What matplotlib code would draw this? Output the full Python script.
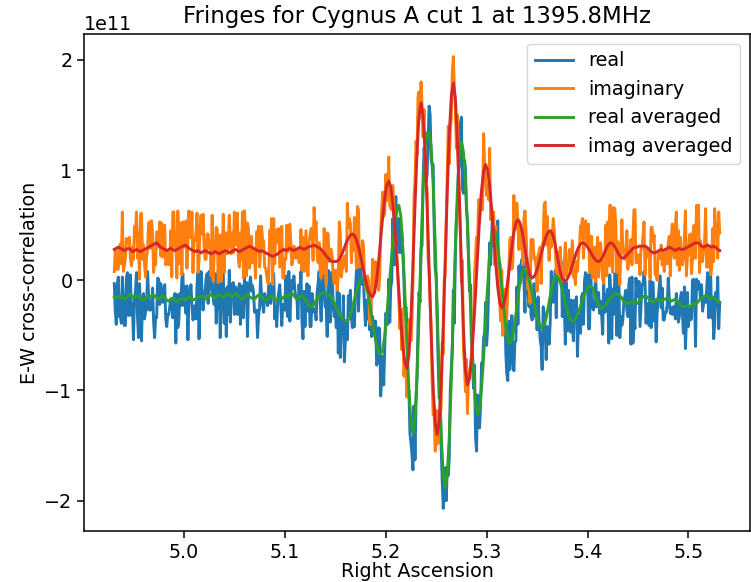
import numpy as np
import matplotlib
matplotlib.use("Agg")
import matplotlib.pyplot as plt

# Right Ascension range of the scan
ra_start = 4.931
ra_stop = 5.531
n_raw = 601   # raw samples
n_avg = 301   # averaged samples

# values in units of 1e11
real_raw = [
-0.03,-0.28,-0.40,-0.04,0.03,-0.33,-0.32,-0.39,0.03,-0.22,-0.41,-0.41,0.02,0.07,-0.32,-0.20,0.05,-0.32,-0.21,-0.54,
-0.16,-0.10,0.07,-0.33,-0.52,-0.03,-0.22,-0.55,-0.18,-0.12,-0.35,-0.28,-0.27,0.08,-0.14,-0.27,-0.27,-0.26,-0.07,-0.38,
-0.52,-0.33,-0.34,0.02,0.01,-0.22,-0.03,-0.09,-0.20,-0.09,-0.04,-0.35,-0.42,-0.31,-0.31,-0.24,-0.17,-0.17,-0.34,-0.23,
-0.12,-0.57,-0.13,-0.43,-0.36,-0.12,-0.23,0.02,0.06,-0.23,-0.06,-0.30,-0.05,-0.54,-0.15,-0.10,-0.04,-0.23,-0.36,-0.30,
-0.23,-0.35,-0.04,0.07,-0.53,-0.09,0.08,-0.09,-0.27,-0.16,-0.11,0.02,0.06,-0.21,0.08,-0.08,0.09,-0.14,-0.15,-0.22,
0.06,-0.39,-0.14,0.09,-0.01,-0.52,-0.21,0.07,0.06,-0.39,-0.08,-0.51,-0.06,-0.31,0.09,-0.38,-0.09,-0.03,-0.02,-0.31,
-0.06,-0.13,-0.31,-0.08,-0.03,-0.40,-0.05,-0.29,-0.34,0.03,-0.20,-0.02,-0.51,-0.08,-0.03,0.03,-0.10,-0.05,-0.11,-0.29,
-0.28,-0.27,-0.52,-0.32,-0.25,0.04,-0.15,-0.22,-0.29,-0.12,-0.18,-0.18,-0.23,-0.04,-0.03,-0.21,-0.14,0.03,0.06,-0.35,
-0.24,-0.42,-0.17,-0.11,-0.04,-0.23,-0.41,-0.22,-0.27,-0.27,0.04,-0.27,-0.33,0.08,-0.37,-0.13,0.00,-0.07,0.04,-0.09,
-0.16,-0.17,-0.35,-0.04,-0.15,0.08,-0.38,-0.53,-0.10,-0.42,-0.13,-0.03,-0.28,-0.05,-0.42,-0.42,-0.12,-0.29,-0.28,-0.26,
-0.36,-0.11,-0.03,0.08,-0.19,-0.37,-0.06,0.07,-0.05,-0.24,-0.24,-0.51,0.09,-0.26,-0.38,0.07,0.05,-0.25,-0.33,-0.23,
-0.43,-0.05,-0.66,-0.12,-0.70,-0.40,-0.47,-0.14,-0.74,-0.55,-0.37,-0.54,-0.14,-0.27,-0.09,-0.34,-0.43,-0.27,-0.42,-0.08,
0.08,0.15,-0.28,-0.02,0.13,0.01,-0.04,0.01,-0.24,-0.41,-0.18,-0.35,-0.15,-0.45,-0.05,-0.51,-0.33,-0.44,-0.44,-0.37,
-0.77,-0.74,-0.43,-0.44,-1.05,-0.89,-0.69,-0.95,-0.63,-0.30,-0.33,-0.40,0.01,-0.38,-0.06,-0.01,0.56,0.37,0.14,0.76,
0.26,0.48,0.56,0.25,0.46,0.44,0.23,0.02,-0.31,-0.24,-0.37,-1.03,-1.00,-1.39,-1.47,-1.58,-1.72,-1.14,-1.63,-1.12,
-0.88,-0.42,-0.11,-0.20,0.28,0.32,0.90,1.20,1.09,0.90,0.96,1.28,1.58,1.50,1.10,1.05,1.05,0.49,0.11,0.04,
-0.39,-0.76,-1.07,-1.03,-1.53,-1.83,-2.07,-1.94,-1.70,-2.00,-1.70,-1.77,-1.60,-0.99,-0.79,-0.61,-0.09,-0.39,0.23,0.55,
0.68,0.97,1.08,1.42,1.48,0.83,0.79,1.09,1.02,0.64,0.55,0.20,-0.10,-0.04,-0.63,-0.78,-0.98,-0.77,-1.42,-1.55,
-1.04,-1.07,-1.34,-1.13,-0.75,-0.78,-0.52,-0.48,-0.20,-0.59,-0.43,-0.03,0.34,0.14,0.41,0.62,0.35,0.27,0.19,0.25,
0.54,-0.01,0.15,0.05,-0.23,-0.09,-0.25,-0.15,-0.66,-0.85,-0.91,-0.37,-0.81,-0.61,-0.32,-0.73,-0.82,-0.56,-0.55,-0.06,
-0.40,0.13,-0.03,0.14,0.19,0.14,-0.02,-0.29,0.26,0.18,-0.08,-0.24,-0.09,-0.32,-0.36,-0.35,-0.03,-0.32,-0.18,-0.45,
-0.15,-0.39,-0.53,-0.60,-0.81,-0.24,-0.29,-0.44,-0.72,-0.42,-0.43,-0.58,-0.38,0.08,-0.05,-0.20,-0.04,0.09,-0.34,0.21,
0.20,0.22,0.20,0.17,-0.33,0.05,-0.23,-0.58,-0.02,-0.46,-0.09,-0.27,-0.47,-0.18,-0.43,-0.55,-0.18,-0.29,-0.15,-0.69,
-0.35,-0.32,-0.48,-0.15,-0.12,-0.40,-0.01,0.07,-0.09,0.05,-0.44,-0.44,0.17,-0.18,-0.25,-0.27,-0.18,0.07,-0.24,-0.21,
-0.11,-0.30,-0.19,-0.31,-0.49,-0.02,-0.29,-0.28,-0.15,-0.08,-0.57,0.05,-0.10,-0.53,-0.08,-0.31,0.06,0.06,-0.50,-0.13,
0.05,-0.52,-0.33,-0.41,-0.36,-0.19,-0.14,-0.09,-0.27,-0.33,-0.03,0.02,-0.58,0.03,-0.57,-0.32,-0.44,0.02,-0.15,-0.14,
-0.01,-0.42,-0.23,-0.04,-0.03,0.08,-0.02,-0.39,-0.21,-0.22,-0.41,0.00,-0.43,-0.02,-0.02,-0.37,-0.18,-0.56,-0.29,-0.18,
-0.06,0.04,-0.25,-0.07,-0.36,-0.36,-0.29,-0.29,-0.22,0.02,-0.17,-0.30,-0.25,-0.31,-0.24,-0.24,-0.35,-0.12,-0.25,-0.38,
-0.33,-0.16,-0.11,-0.30,-0.48,-0.06,-0.62,-0.36,-0.11,-0.42,-0.24,-0.36,-0.35,0.00,0.01,-0.10,-0.60,0.01,-0.08,-0.01,
-0.06,-0.17,-0.04,-0.28,-0.21,-0.15,-0.20,-0.09,0.07,-0.34,0.05,0.06,-0.34,-0.16,-0.53,-0.40,-0.11,-0.24,0.03,-0.44,
-0.20]

imag_raw = [
0.08,0.27,0.27,0.10,0.10,0.28,0.33,0.15,0.62,0.08,0.13,0.20,0.38,0.33,0.33,0.39,0.20,0.13,0.30,0.19,
0.49,0.44,0.62,0.20,0.43,0.01,0.60,0.61,0.19,0.32,0.14,0.03,0.21,0.28,0.52,0.53,0.29,0.54,0.42,0.07,
0.19,0.14,0.44,0.43,0.30,0.53,0.22,0.52,0.21,0.45,0.50,0.14,0.19,0.26,0.14,0.15,0.45,0.03,0.62,0.62,
0.31,0.38,0.02,0.63,0.15,0.52,0.52,0.05,0.53,0.48,0.30,0.54,0.11,0.34,0.63,0.39,0.44,0.62,0.07,0.37,
0.36,0.43,0.61,0.07,0.18,0.48,0.59,0.42,0.60,0.31,0.19,0.19,0.42,0.42,0.29,0.35,0.04,0.59,-0.01,0.24,
0.30,0.48,0.47,-0.02,0.10,0.41,-0.01,0.18,0.60,0.07,0.43,0.43,0.24,0.36,0.59,0.36,0.24,0.43,0.25,0.62,
0.32,0.44,0.61,0.19,0.12,0.43,0.19,0.62,0.02,0.63,0.45,0.04,0.52,0.47,0.11,0.23,0.40,0.16,0.27,0.27,
0.02,0.44,0.37,0.49,0.12,0.25,0.49,0.37,0.36,0.12,0.11,0.05,-0.02,-0.03,0.45,0.39,0.56,-0.04,0.56,0.15,
0.45,0.46,0.34,0.47,0.12,0.31,0.49,0.02,0.02,0.20,0.19,0.50,0.26,0.45,0.51,0.33,0.14,0.20,0.31,0.26,
0.20,0.21,0.27,0.16,0.16,0.46,0.09,0.39,0.08,0.27,0.45,0.10,0.04,0.35,0.41,0.47,0.47,0.18,0.66,0.48,
0.53,0.23,0.16,0.34,0.09,0.02,0.25,0.06,0.47,0.16,-0.04,0.43,0.42,0.17,0.28,0.28,0.21,0.03,-0.03,0.09,
0.09,-0.09,0.04,0.53,0.43,0.03,0.11,0.13,0.22,0.18,0.08,0.70,0.48,0.56,0.51,0.16,0.40,0.27,0.57,0.37,
0.11,0.67,0.64,0.12,0.14,0.16,0.36,0.31,0.03,-0.07,-0.05,0.04,0.00,-0.38,-0.40,-0.10,0.19,-0.09,-0.07,0.17,
0.04,0.13,-0.09,0.02,0.42,0.64,0.80,0.58,0.61,0.96,0.72,0.74,1.12,0.68,0.65,0.64,0.86,0.69,0.34,0.32,
0.24,0.03,-0.18,-0.44,-0.34,-0.63,-0.26,-0.87,-0.77,-0.79,-1.06,-0.40,-0.46,-0.35,-0.55,-0.37,0.00,0.75,0.89,1.26,
1.14,1.66,1.71,1.47,1.80,1.59,1.30,1.55,0.97,0.85,0.84,0.19,0.09,-0.20,-0.43,-0.92,-1.22,-1.20,-1.55,-1.48,
-1.18,-1.48,-1.30,-1.25,-1.13,-0.57,-0.67,-0.01,0.06,0.54,0.96,1.40,1.06,1.36,1.47,1.89,2.03,1.76,1.57,1.20,
1.50,1.04,0.76,0.46,-0.02,0.18,-0.64,-0.76,-1.01,-0.72,-1.21,-0.88,-0.85,-0.76,-0.68,-0.42,-0.41,0.05,0.22,0.39,
0.32,0.73,0.53,0.72,0.80,0.64,1.33,1.06,0.91,0.77,0.86,0.73,1.20,0.55,0.63,0.56,0.62,0.14,0.49,0.21,
-0.02,0.09,-0.22,-0.37,0.09,-0.50,-0.30,-0.08,-0.39,-0.33,-0.08,0.11,0.37,0.39,0.10,0.17,0.77,0.46,0.62,0.70,
0.53,0.28,0.50,0.29,0.31,0.14,0.56,0.63,0.45,0.21,-0.08,0.12,-0.21,0.37,0.36,0.37,0.19,0.21,0.11,-0.10,
0.23,0.26,0.30,-0.03,0.31,0.35,0.68,0.71,0.32,0.58,0.36,0.18,0.43,0.30,0.41,0.56,0.46,0.30,0.07,0.26,
0.03,0.04,0.30,0.02,-0.01,0.04,0.15,0.34,0.04,0.12,0.13,0.28,0.06,0.21,0.36,0.03,0.06,-0.04,0.17,0.08,
0.22,0.30,0.49,0.50,0.56,0.20,0.43,0.54,0.48,0.34,0.51,0.07,0.18,0.40,0.02,0.19,0.30,-0.01,0.22,0.39,
0.03,0.28,0.34,0.18,0.01,-0.03,0.12,0.50,0.04,0.53,0.13,0.68,0.68,0.14,0.07,0.66,0.65,0.51,0.07,0.35,
0.22,-0.04,0.25,0.55,0.30,0.25,0.19,0.26,0.45,0.10,0.29,0.18,0.37,0.14,0.39,0.64,0.64,0.16,0.16,0.23,
0.23,0.05,0.29,0.29,0.41,0.53,0.05,0.29,0.22,0.21,0.26,0.01,0.48,0.48,0.35,0.41,0.05,0.06,0.00,0.25,
0.25,0.20,0.32,0.14,0.25,0.08,0.20,0.27,0.15,0.34,0.40,0.04,0.39,0.51,0.26,0.20,0.49,0.62,0.14,0.45,
0.09,0.39,0.20,0.14,0.20,0.39,0.63,0.04,0.22,0.23,0.41,0.42,0.06,0.19,0.49,0.50,0.20,0.68,0.44,0.68,
0.07,0.36,0.17,0.17,0.28,0.35,0.65,0.12,0.12,0.30,0.29,0.05,0.10,0.47,0.17,0.65,0.46,0.51,0.20,0.62,
0.43]

real_avg = [
-0.15,-0.16,-0.15,-0.14,-0.15,-0.17,-0.16,-0.14,-0.13,-0.15,
-0.16,-0.15,-0.14,-0.16,-0.18,-0.17,-0.15,-0.14,-0.15,-0.13,
-0.14,-0.16,-0.17,-0.15,-0.14,-0.16,-0.18,-0.19,-0.17,-0.16,
-0.18,-0.19,-0.18,-0.17,-0.16,-0.18,-0.17,-0.15,-0.16,-0.18,
-0.17,-0.16,-0.15,-0.14,-0.15,-0.17,-0.16,-0.14,-0.13,-0.15,
-0.16,-0.14,-0.13,-0.15,-0.16,-0.14,-0.12,-0.13,-0.15,-0.14,
-0.12,-0.13,-0.15,-0.17,-0.16,-0.14,-0.13,-0.15,-0.16,-0.17,
-0.16,-0.14,-0.13,-0.15,-0.17,-0.18,-0.17,-0.15,-0.14,-0.16,
-0.18,-0.17,-0.16,-0.17,-0.15,-0.14,-0.15,-0.13,-0.12,-0.14,
-0.16,-0.17,-0.15,-0.14,-0.16,-0.19,-0.22,-0.24,-0.24,-0.22,
-0.18,-0.15,-0.13,-0.12,-0.11,-0.12,-0.13,-0.14,-0.17,-0.21,
-0.25,-0.28,-0.32,-0.35,-0.36,-0.37,-0.355,-0.31,-0.25,-0.175,
-0.10,-0.04,0.005,0.02,0.0,-0.06,-0.15,-0.265,-0.385,-0.50,
-0.59,-0.65,-0.67,-0.63,-0.51,-0.33,-0.11,0.12,0.34,0.52,
0.64,0.68,0.58,0.29,-0.125,-0.585,-1.0,-1.29,-1.39,-1.25,
-0.875,-0.325,0.28,0.835,1.21,1.34,1.34,1.22,0.87,0.345,
-0.27,-0.885,-1.41,-1.76,-1.88,-1.76,-1.42,-0.91,-0.31,0.29,
0.80,1.14,1.26,1.165,0.90,0.49,0.02,-0.45,-0.86,-1.125,
-1.22,-1.156,-0.973,-0.698,-0.375,-0.052,0.223,0.406,0.47,0.43,
0.318,0.149,-0.05,-0.249,-0.418,-0.53,-0.57,-0.537,-0.444,-0.309,
-0.161,-0.026,0.067,0.10,0.084,0.038,-0.033,-0.119,-0.211,-0.298,
-0.368,-0.414,-0.43,-0.407,-0.342,-0.247,-0.143,-0.048,0.017,0.04,
0.024,-0.02,-0.087,-0.165,-0.243,-0.31,-0.354,-0.37,-0.36,-0.333,
-0.29,-0.238,-0.182,-0.13,-0.087,-0.06,-0.05,-0.069,-0.119,-0.181,
-0.231,-0.25,-0.245,-0.231,-0.21,-0.185,-0.16,-0.139,-0.125,-0.12,
-0.13,-0.15,-0.18,-0.20,-0.21,-0.21,-0.20,-0.19,-0.20,-0.21,
-0.19,-0.17,-0.15,-0.14,-0.15,-0.17,-0.19,-0.20,-0.18,-0.17,
-0.18,-0.19,-0.18,-0.17,-0.16,-0.17,-0.19,-0.18,-0.17,-0.19,
-0.21,-0.23,-0.24,-0.24,-0.23,-0.24,-0.23,-0.21,-0.22,-0.20,
-0.18,-0.16,-0.15,-0.14,-0.15,-0.17,-0.16,-0.15,-0.17,-0.19,
-0.20]

imag_avg = [
0.28,0.29,0.30,0.29,0.28,0.27,0.28,0.29,0.28,0.26,
0.27,0.28,0.27,0.26,0.27,0.28,0.29,0.30,0.31,0.32,
0.33,0.34,0.32,0.30,0.29,0.28,0.27,0.28,0.29,0.28,
0.27,0.28,0.29,0.30,0.31,0.32,0.31,0.29,0.28,0.27,
0.26,0.27,0.26,0.25,0.26,0.27,0.26,0.25,0.24,0.25,
0.26,0.25,0.24,0.25,0.26,0.27,0.26,0.25,0.26,0.27,
0.28,0.27,0.26,0.27,0.28,0.29,0.30,0.31,0.30,0.29,
0.28,0.27,0.26,0.27,0.26,0.25,0.24,0.23,0.22,0.22,
0.23,0.24,0.26,0.27,0.28,0.27,0.28,0.29,0.28,0.27,
0.28,0.29,0.30,0.29,0.28,0.29,0.30,0.31,0.31,0.32,
0.31,0.30,0.29,0.27,0.25,0.22,0.20,0.18,0.17,0.17,
0.17,0.18,0.207,0.247,0.295,0.343,0.384,0.41,0.42,0.406,
0.366,0.303,0.223,0.135,0.047,-0.033,-0.096,-0.136,-0.15,-0.11,
0.003,0.174,0.375,0.576,0.747,0.86,0.90,0.849,0.701,0.475,
0.198,-0.098,-0.375,-0.60,-0.749,-0.80,-0.68,-0.347,0.137,0.673,
1.157,1.49,1.61,1.496,1.17,0.68,0.105,-0.47,-0.96,-1.286,
-1.40,-1.279,-0.934,-0.414,0.195,0.804,1.324,1.669,1.79,1.653,
1.275,0.724,0.116,-0.435,-0.813,-0.95,-0.89,-0.716,-0.45,-0.124,
0.224,0.55,0.816,0.99,1.05,1.0,0.86,0.648,0.40,0.152,
-0.06,-0.20,-0.25,-0.22,-0.133,-0.003,0.15,0.303,0.433,0.52,
0.55,0.524,0.45,0.344,0.226,0.12,0.047,0.02,0.033,0.07,
0.128,0.198,0.272,0.343,0.40,0.437,0.45,0.427,0.364,0.271,
0.169,0.076,0.013,-0.01,0.0,0.031,0.078,0.135,0.195,0.253,
0.299,0.33,0.34,0.334,0.315,0.287,0.255,0.223,0.195,0.176,
0.17,0.181,0.213,0.255,0.298,0.329,0.34,0.331,0.305,0.27,
0.235,0.209,0.20,0.21,0.23,0.25,0.27,0.29,0.30,0.30,
0.31,0.31,0.31,0.31,0.30,0.28,0.26,0.25,0.25,0.26,
0.27,0.28,0.27,0.28,0.29,0.30,0.29,0.28,0.27,0.28,
0.29,0.28,0.28,0.29,0.30,0.31,0.32,0.33,0.34,0.34,
0.33,0.31,0.30,0.31,0.32,0.31,0.30,0.31,0.30,0.28,
0.27]

scale = 1e11
ra_raw = np.linspace(ra_start, ra_stop, n_raw)
ra_avg = np.linspace(ra_start, ra_stop, n_avg)

fs = 13.8
plt.rcParams.update({
    "font.size": fs,
    "axes.titlesize": 16.5,
    "axes.labelsize": fs,
    "xtick.labelsize": fs,
    "ytick.labelsize": fs,
    "legend.fontsize": fs,
    "xtick.major.size": 4.8,
    "ytick.major.size": 4.8,
    "xtick.major.width": 1.1,
    "ytick.major.width": 1.1,
    "axes.linewidth": 1.1,
})

fig = plt.figure(figsize=(7.51, 5.82), dpi=100)
ax = fig.add_axes([84/751, 1 - 531/582, (750 - 84)/751, (531 - 34)/582])

ax.plot(ra_raw, np.array(real_raw) * scale, lw=2.1, label="real")
ax.plot(ra_raw, np.array(imag_raw) * scale, lw=2.1, label="imaginary")
ax.plot(ra_avg, np.array(real_avg) * scale, lw=2.1, label="real averaged")
ax.plot(ra_avg, np.array(imag_avg) * scale, lw=2.1, label="imag averaged")

ax.set_title("Fringes for Cygnus A cut 1 at 1395.8MHz", pad=8)
ax.set_xlabel("Right Ascension", labelpad=0.5)
ax.set_ylabel("E-W cross-correlation")
ax.legend(loc="upper right")

fig.savefig("out.png", dpi=100)
